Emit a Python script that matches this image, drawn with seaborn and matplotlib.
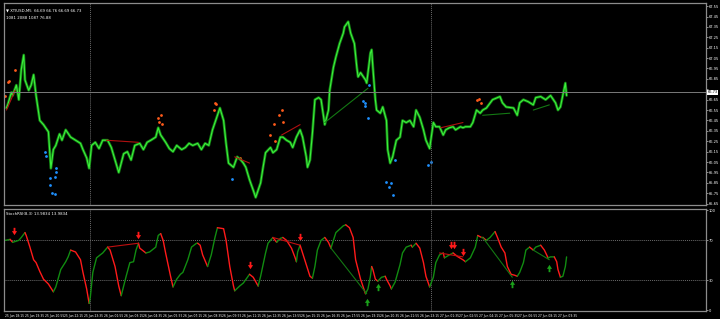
import matplotlib
matplotlib.use("Agg")
import matplotlib.pyplot as plt
import matplotlib.transforms as mtransforms
from matplotlib.path import Path
import numpy as np
import pandas as pd
import seaborn as sns

# ---------------- data ----------------
price_bar = [1, 2, 5, 6, 9, 11, 13, 15, 16, 19, 21, 23, 25, 28, 31, 35, 37, 39, 41, 44,
             46, 49, 53, 57, 61, 63, 66, 68, 70, 73, 76, 79, 83, 86, 89, 92, 96, 99, 102, 105,
             109, 112, 115, 118, 122, 124, 126, 130, 133, 136, 139, 143, 146, 149, 152, 156, 159, 162, 165, 168,
             172, 174, 177, 179, 181, 185, 188, 191, 193, 195, 198, 201, 203, 207, 209, 211, 215, 217, 220, 223,
             225, 228, 231, 233, 236, 239, 241, 244, 245, 247, 249, 251, 254, 256, 259, 262, 263, 266, 268, 271,
             274, 275, 278, 280, 283, 285, 286, 288, 292, 293, 296, 297, 298, 300, 301, 304, 306, 309, 310, 312,
             314, 317, 320, 322, 325, 328, 331, 333, 336, 339, 341, 344, 347, 349, 352, 355, 357, 360, 363, 365,
             369, 371, 373, 377, 379, 382, 385, 387, 390, 395, 401, 403, 406, 412, 415, 417, 420, 424, 428, 430,
             434, 438, 442, 446, 448, 450, 454, 455]
price_close = [66.57, 66.60, 66.72, 66.69, 66.79, 66.65, 66.94, 67.08, 66.84, 66.74, 66.79, 66.89, 66.69, 66.45, 66.41, 66.34, 65.99, 66.17, 66.21, 66.32,
               66.26, 66.36, 66.29, 66.26, 66.23, 66.17, 66.09, 65.99, 66.21, 66.24, 66.18, 66.26, 66.26, 66.19, 66.07, 65.95, 66.13, 66.15, 66.07, 66.21,
               66.23, 66.17, 66.24, 66.26, 66.29, 66.38, 66.31, 66.24, 66.18, 66.15, 66.21, 66.17, 66.19, 66.23, 66.21, 66.23, 66.17, 66.23, 66.21, 66.36,
               66.50, 66.57, 66.45, 66.23, 66.04, 66.00, 66.10, 66.07, 66.04, 66.00, 65.88, 65.78, 65.71, 65.85, 66.00, 66.14, 66.19, 66.14, 66.17, 66.29,
               66.29, 66.26, 66.24, 66.19, 66.29, 66.36, 66.29, 66.10, 66.00, 66.07, 66.33, 66.65, 66.67, 66.65, 66.41, 66.55, 66.74, 66.96, 67.06, 67.19,
               67.29, 67.35, 67.40, 67.29, 67.19, 66.96, 66.87, 66.91, 66.84, 66.81, 67.10, 67.13, 66.96, 66.65, 66.55, 66.52, 66.58, 66.45, 66.17, 66.04,
               66.10, 66.26, 66.29, 66.45, 66.43, 66.45, 66.39, 66.55, 66.48, 66.36, 66.26, 66.18, 66.43, 66.39, 66.39, 66.31, 66.36, 66.38, 66.39, 66.36,
               66.39, 66.38, 66.39, 66.39, 66.43, 66.55, 66.52, 66.55, 66.57, 66.65, 66.68, 66.62, 66.58, 66.57, 66.50, 66.62, 66.65, 66.63, 66.60, 66.67,
               66.68, 66.65, 66.69, 66.62, 66.55, 66.58, 66.81, 66.69]

osc_bar = [0, 4, 6, 11, 13, 16, 17, 20, 23, 25, 28, 31, 35, 39, 41, 45, 49, 51, 53, 57,
           61, 63, 66, 68, 69, 71, 74, 77, 79, 83, 85, 89, 92, 94, 98, 101, 104, 106, 108, 109,
           114, 117, 122, 124, 126, 128, 130, 134, 136, 139, 142, 144, 148, 151, 155, 156, 158, 160, 164, 167,
           170, 172, 177, 179, 182, 185, 186, 190, 193, 198, 201, 205, 207, 211, 213, 217, 220, 223, 225, 228,
           232, 235, 236, 237, 239, 241, 244, 247, 249, 251, 253, 256, 259, 262, 264, 268, 274, 276, 279, 282,
           284, 288, 292, 294, 296, 297, 298, 300, 302, 305, 308, 309, 312, 313, 316, 320, 322, 325, 329, 330,
           333, 336, 339, 341, 344, 347, 349, 352, 355, 356, 360, 363, 367, 371, 373, 377, 381, 383, 386, 387,
           390, 393, 397, 399, 402, 405, 407, 410, 413, 415, 417, 420, 422, 425, 428, 430, 434, 437, 440, 442,
           445, 447, 448, 450, 452, 454, 455]
osc_value = [70.0, 71.0, 68.0, 70.0, 72.9, 77.8, 74.9, 63.2, 50.5, 47.6, 38.8, 31.0, 26.1, 18.3, 23.2, 40.7, 48.5, 53.4, 60.2, 58.3,
             50.5, 37.8, 21.2, 6.6, 13.4, 37.8, 52.4, 55.4, 57.3, 63.2, 60.2, 43.7, 24.1, 14.4, 33.9, 47.6, 48.5, 60.2, 67.1, 62.2,
             57.3, 58.3, 63.2, 74.9, 76.8, 70.0, 57.3, 33.9, 23.2, 31.0, 35.9, 37.8, 50.5, 63.2, 67.1, 67.1, 65.1, 55.4, 43.7, 55.4,
             72.9, 82.7, 81.7, 70.0, 43.7, 24.1, 19.3, 24.1, 27.1, 35.9, 32.9, 24.1, 33.9, 57.3, 67.1, 72.9, 68.0, 72.0, 72.9, 70.0,
             62.2, 52.4, 48.5, 58.3, 65.1, 57.3, 45.6, 33.9, 32.0, 43.7, 60.2, 70.0, 72.9, 68.0, 62.2, 77.8, 84.6, 85.6, 82.7, 72.9,
             50.5, 31.0, 16.3, 21.2, 33.9, 43.7, 40.7, 31.0, 29.0, 32.9, 33.9, 31.0, 24.1, 21.2, 28.0, 45.6, 57.3, 63.2, 65.1, 63.2,
             67.1, 62.2, 47.6, 33.9, 23.2, 32.9, 47.6, 55.4, 57.3, 52.4, 55.4, 57.3, 53.4, 50.5, 48.5, 52.4, 63.2, 74.9, 72.9, 72.9,
             70.0, 72.9, 78.8, 72.9, 63.2, 57.3, 43.7, 35.9, 34.9, 33.9, 37.8, 47.6, 60.2, 63.2, 60.2, 63.2, 65.1, 60.2, 52.4, 53.4,
             53.4, 48.5, 40.7, 32.9, 33.9, 43.7, 53.4]

# trend lines (start bar, end bar) / (start value, end value)
main_line_bars = [(1, 8), (82, 108), (186, 198), (224, 239), (259, 294), (353, 371), (387, 409), (428, 441)]
main_line_prices = [(66.55, 66.74), (66.26, 66.24), (66.10, 66.04), (66.31, 66.41), (66.43, 66.76),
                    (66.38, 66.43), (66.50, 66.52), (66.55, 66.60)]
main_line_kind = ["sell", "sell", "sell", "sell", "buy", "sell", "buy", "buy"]

osc_line_bars = [(83, 108), (217, 239), (264, 293), (352, 371), (387, 411), (428, 441)]
osc_line_values = [(63.2, 67.1), (72.9, 65.1), (62.2, 16.3), (57.3, 53.4), (72.9, 32.9), (60.2, 50.5)]
osc_line_kind = ["sell", "sell", "buy", "sell", "buy", "buy"]

sell_dot_bar = [0, 2, 3, 8, 124, 125, 126, 127, 169, 170, 171, 190, 215, 218, 219, 222, 224, 225, 382, 384, 386]
sell_dot_price = [66.69, 66.82, 66.83, 66.94, 66.47, 66.44, 66.50, 66.42, 66.55, 66.62, 66.61, 66.09,
                  66.31, 66.42, 66.25, 66.50, 66.55, 66.44, 66.65, 66.66, 66.62]
buy_dot_bar = [32, 33, 36, 36, 38, 40, 40, 41, 41, 184, 290, 292, 292, 294, 295, 309, 311, 313, 314, 316, 343, 345]
buy_dot_price = [66.15, 66.11, 65.90, 65.83, 65.75, 65.91, 65.74, 65.95, 65.99, 65.89, 66.64, 66.62, 66.59,
                 66.47, 66.79, 65.86, 65.81, 65.85, 65.73, 66.07, 66.02, 66.05]

down_arrow_bar = [7, 108, 198, 239, 361, 364, 371]
down_arrow_value = [73.9, 70.0, 39.8, 68.0, 60.2, 60.2, 53.4]
up_arrow_bar = [293, 302, 411, 441]
up_arrow_value = [13.4, 28.0, 31.0, 47.6]

day_separator_bar = [69, 345]
current_price = 66.72
current_price_label = "66.73"

price_ticks = [67.55, 67.45, 67.35, 67.25, 67.15, 67.05, 66.95, 66.85, 66.75, 66.65,
               66.55, 66.45, 66.35, 66.25, 66.15, 66.05, 65.95, 65.85, 65.75, 65.65]
osc_ticks = [100, 70, 30, 0]
osc_levels = [70, 30]

time_tick_bar = [0, 16, 32, 48, 64, 80, 96, 112, 128, 144, 160, 176, 192, 208, 224, 240,
                 256, 272, 288, 304, 320, 336, 352, 368, 384, 400, 416, 432, 448]
time_tick_label = ["25 Jun 18:15", "25 Jun 19:35", "25 Jun 20:55", "25 Jun 22:15", "25 Jun 23:35",
                   "26 Jun 01:55", "26 Jun 03:15", "26 Jun 04:35", "26 Jun 05:55", "26 Jun 07:15",
                   "26 Jun 08:35", "26 Jun 09:55", "26 Jun 11:15", "26 Jun 12:35", "26 Jun 13:55",
                   "26 Jun 15:15", "26 Jun 16:35", "26 Jun 17:55", "26 Jun 19:15", "26 Jun 20:35",
                   "26 Jun 21:55", "26 Jun 23:15", "27 Jun 01:35", "27 Jun 02:55", "27 Jun 04:15",
                   "27 Jun 05:35", "27 Jun 06:55", "27 Jun 08:15", "27 Jun 09:35"]

symbol_text = "\u25BC XTIUSD,M5  66.69 66.76 66.69 66.73"
symbol_text2 = "1081 2088 1087 76.88"
osc_text = "StochRSI(8,3) 13.9834 13.9834"

# ---------------- style ----------------
sns.set_theme(style="dark")
plt.rcParams["font.family"] = ["DejaVu Sans"]
plt.rcParams["axes.facecolor"] = "black"
plt.rcParams["figure.facecolor"] = "black"

LIME = "#3cf03c"
RED = "#ff1a1a"
ORANGE = "#ff5a1a"
BLUE = "#1e90ff"
GRID = "#8c8c8c"

# arrow marker shapes (MT4-style thick arrows)
down_arrow = Path([(-0.25, 1), (0.25, 1), (0.25, 0.1), (0.7, 0.1), (0, -1), (-0.7, 0.1), (-0.25, 0.1), (-0.25, 1)],
                  [Path.MOVETO] + [Path.LINETO] * 6 + [Path.CLOSEPOLY])
up_arrow = Path([(-0.25, -1), (0.25, -1), (0.25, -0.1), (0.7, -0.1), (0, 1), (-0.7, -0.1), (-0.25, -0.1), (-0.25, -1)],
                [Path.MOVETO] + [Path.LINETO] * 6 + [Path.CLOSEPOLY])

fig = plt.figure(figsize=(7.2, 3.19), dpi=100, facecolor="black")
ax1 = fig.add_axes([4 / 720, 1 - 205 / 319, 702 / 720, 202 / 319])
ax2 = fig.add_axes([4 / 720, 1 - 311 / 319, 702 / 720, 102 / 319])

for ax in (ax1, ax2):
    ax.set_facecolor("black")
    for s in ax.spines.values():
        s.set_color(GRID)
        s.set_linewidth(0.9)
    ax.grid(False)
    ax.yaxis.tick_right()
    ax.tick_params(axis="y", colors="white", labelsize=2.6, length=1.2, width=0.4, pad=1.0)
    ax.set_xlim(-1, 568)
    for b in day_separator_bar:
        ax.axvline(b, color="#6a6a6a", lw=0.7, ls=(0, (1, 1)))

# --- main panel ---
df = pd.DataFrame({"bar": price_bar, "close": price_close})
sns.lineplot(data=df, x="bar", y="close", ax=ax1, color="#147f14", lw=2.0,
             estimator=None, sort=False, legend=False)
sns.lineplot(data=df, x="bar", y="close", ax=ax1, color=LIME, lw=0.8,
             estimator=None, sort=False, legend=False)
for (b0, b1), (p0, p1), k in zip(main_line_bars, main_line_prices, main_line_kind):
    ax1.plot([b0, b1], [p0, p1], color=("#b01010" if k == "sell" else "#137813"), lw=0.8)
sns.scatterplot(x=sell_dot_bar, y=sell_dot_price, ax=ax1, color=ORANGE, s=4, linewidth=0, legend=False)
sns.scatterplot(x=buy_dot_bar, y=buy_dot_price, ax=ax1, color=BLUE, s=4, linewidth=0, legend=False)
ax1.axhline(current_price, color="#7a7a7a", lw=0.7)
ax1.set_ylim(65.637, 67.58)
ax1.set_yticks(price_ticks)
# the current-price box covers the tick label next to it, as in the terminal
ax1.set_yticklabels(["" if abs(t - current_price) < 0.05 else f"{t:.2f}" for t in price_ticks])
ax1.set_xticks([])
ax1.set_xlabel("")
ax1.set_ylabel("")
trans = mtransforms.blended_transform_factory(ax1.transAxes, ax1.transData)
ax1.text(1.002, current_price, current_price_label, transform=trans, fontsize=2.6, color="black",
         va="center", ha="left", bbox=dict(boxstyle="square,pad=0.15", fc="white", ec="none"))
ax1.text(0.003, 0.975, symbol_text, transform=ax1.transAxes, fontsize=2.8, color="white", va="top")
ax1.text(0.003, 0.935, symbol_text2, transform=ax1.transAxes, fontsize=2.8, color="white", va="top")

# --- oscillator panel ---
for lv in osc_levels:
    ax2.axhline(lv, color="#6a6a6a", lw=0.7, ls=(0, (1, 1)))
vals = np.array(osc_value)
bars = np.array(osc_bar)
direction = np.sign(np.diff(vals))
run_start = 0
for i in range(1, len(direction) + 1):
    if i == len(direction) or (direction[i] >= 0) != (direction[run_start] >= 0):
        col = "#118c11" if direction[run_start] >= 0 else RED
        sns.lineplot(x=bars[run_start:i + 1], y=vals[run_start:i + 1], ax=ax2, color=col, lw=1.0,
                     estimator=None, sort=False, legend=False)
        run_start = i
for (b0, b1), (v0, v1), k in zip(osc_line_bars, osc_line_values, osc_line_kind):
    ax2.plot([b0, b1], [v0, v1], color=("#c01010" if k == "sell" else "#137813"), lw=0.8)
ax2.scatter(down_arrow_bar, [v + 5 for v in down_arrow_value], marker=down_arrow, s=28,
            color=RED, linewidths=0)
ax2.scatter(up_arrow_bar, [v - 5 for v in up_arrow_value], marker=up_arrow, s=28,
            color="#1aa01a", linewidths=0)
ax2.set_ylim(-1, 101.5)
ax2.set_yticks(osc_ticks)
ax2.set_yticklabels([str(t) for t in osc_ticks])
ax2.set_xticks(time_tick_bar)
ax2.set_xticklabels(time_tick_label, fontsize=2.2, color="white", ha="left")
ax2.tick_params(axis="x", colors="white", labelsize=2.2, length=1.2, width=0.4, pad=1.0)
ax2.set_xlabel("")
ax2.set_ylabel("")
ax2.text(0.003, 0.97, osc_text, transform=ax2.transAxes, fontsize=2.8, color="white", va="top")

fig.savefig("out.png", dpi=100, facecolor="black")
